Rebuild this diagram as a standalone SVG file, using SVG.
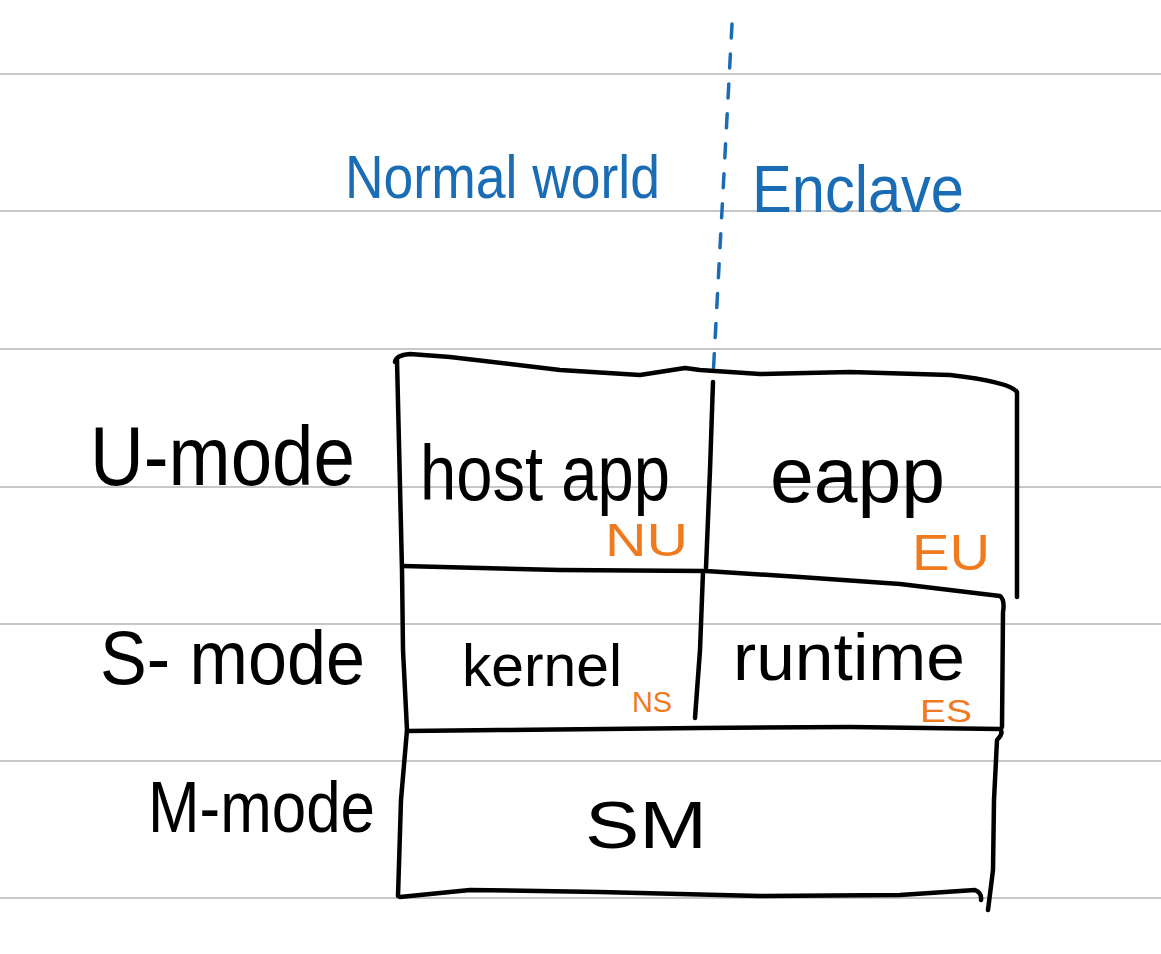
<svg xmlns="http://www.w3.org/2000/svg" width="1161" height="954" viewBox="0 0 1161 954">
<style>
.rule{stroke:#b4b4b4;stroke-width:1.6;fill:none}
.ink{stroke:#000;stroke-width:4.5;fill:none;stroke-linecap:round;stroke-linejoin:round}
.dash{stroke:#1a6db5;stroke-width:3.5;fill:none;stroke-dasharray:14 16;stroke-linecap:round}
.blk{font-family:"Liberation Sans","DejaVu Sans",sans-serif;fill:#000}
.blue{font-family:"Liberation Sans","DejaVu Sans",sans-serif;fill:#1a6db5}
.org{font-family:"Liberation Sans","DejaVu Sans",sans-serif;fill:#f07a1e}
</style>
<rect width="1161" height="954" fill="#fff"/>
<g id="rules">
<line class="rule" x1="0" y1="74" x2="1161" y2="74"/>
<line class="rule" x1="0" y1="211" x2="1161" y2="211"/>
<line class="rule" x1="0" y1="349" x2="1161" y2="349"/>
<line class="rule" x1="0" y1="487" x2="1161" y2="487"/>
<line class="rule" x1="0" y1="624" x2="1161" y2="624"/>
<line class="rule" x1="0" y1="761" x2="1161" y2="761"/>
<line class="rule" x1="0" y1="898" x2="1161" y2="898"/>
</g>
<g id="connectors">
<path class="dash" d="M732 24 L713 378"/>
</g>
<g id="box">
<path class="ink" d="M395 362 Q396 355 410 354 L450 357 L560 370 L640 375 L685 368 L700 370 L760 374 L850 372 L950 375 Q1010 382 1017 392 L1017 597"/>
<path class="ink" d="M397 360 L402 570 L403 650 L407 730 L401 800 L398 896"/>
<path class="ink" d="M713 382 L710 470 L706 568"/>
<path class="ink" d="M403 566 L560 570 L706 571 L800 577 L900 584 L1000 596 Q1005 600 1003 612 L1002 727"/>
<path class="ink" d="M703 572 L700 650 L695 718"/>
<path class="ink" d="M407 731 L500 730 L700 728 L850 727 L1000 729 Q1004 733 997 740 L994 800 L993 870 L988 910"/>
<path class="ink" d="M400 897 L470 890 L600 892 L760 896 L900 895 L975 890 Q982 893 981 900"/>
</g>
<g id="header">
<text class="blue" x="345" y="198" font-size="62" textLength="315" lengthAdjust="spacingAndGlyphs">Normal world</text>
<text class="blue" x="752" y="212" font-size="66" textLength="212" lengthAdjust="spacingAndGlyphs">Enclave</text>
</g>
<g id="u-mode"><text class="blk" x="90" y="485" font-size="84" textLength="265" lengthAdjust="spacingAndGlyphs">U-mode</text></g>
<g id="s-mode"><text class="blk" x="100" y="684" font-size="76" textLength="265" lengthAdjust="spacingAndGlyphs">S- mode</text></g>
<g id="m-mode"><text class="blk" x="148" y="832" font-size="72" textLength="227" lengthAdjust="spacingAndGlyphs">M-mode</text></g>
<g id="host-app">
<text class="blk" x="420" y="500" font-size="78" textLength="250" lengthAdjust="spacingAndGlyphs">host app</text>
<text class="org" x="605" y="556" font-size="46" textLength="83" lengthAdjust="spacingAndGlyphs">NU</text>
</g>
<g id="eapp">
<text class="blk" x="770" y="502" font-size="78" textLength="175" lengthAdjust="spacingAndGlyphs">eapp</text>
<text class="org" x="912" y="570" font-size="50" textLength="78" lengthAdjust="spacingAndGlyphs">EU</text>
</g>
<g id="kernel">
<text class="blk" x="462" y="686" font-size="60" textLength="160" lengthAdjust="spacingAndGlyphs">kernel</text>
<text class="org" x="632" y="712" font-size="30" textLength="40" lengthAdjust="spacingAndGlyphs">NS</text>
</g>
<g id="runtime">
<text class="blk" x="733" y="680" font-size="66" textLength="232" lengthAdjust="spacingAndGlyphs">runtime</text>
<text class="org" x="920" y="722" font-size="32" textLength="52" lengthAdjust="spacingAndGlyphs">ES</text>
</g>
<g id="sm">
<text class="blk" x="585" y="848" font-size="66" textLength="122" lengthAdjust="spacingAndGlyphs">SM</text>
</g>
</svg>
